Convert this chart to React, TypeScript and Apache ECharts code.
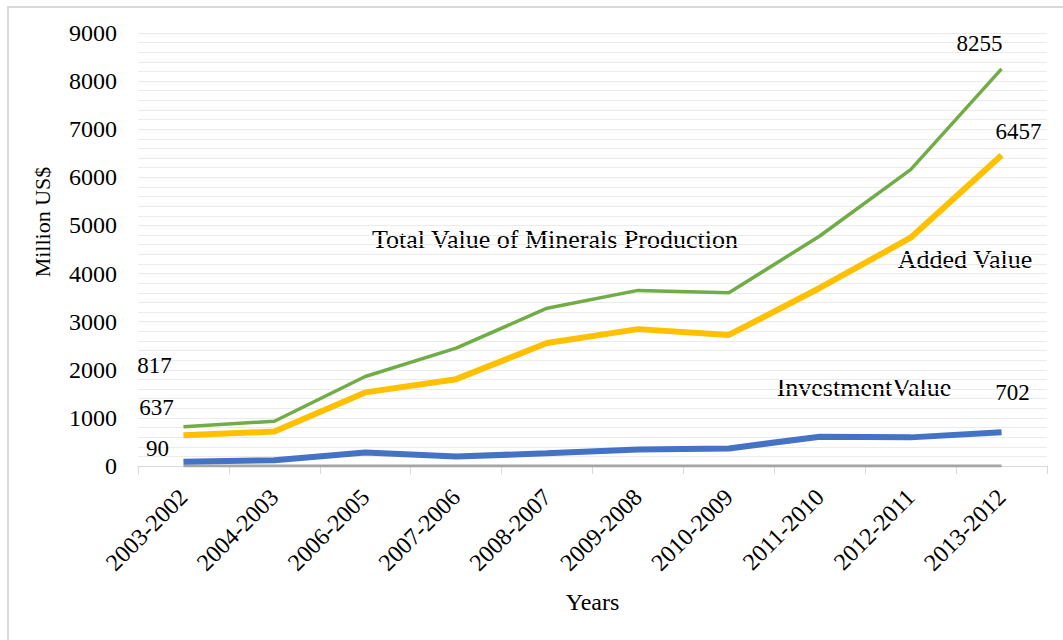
import React, { useEffect, useRef } from "react";
import * as echarts from "echarts";

const years = [
  "2003-2002", "2004-2003", "2006-2005", "2007-2006", "2008-2007",
  "2009-2008", "2010-2009", "2011-2010", "2012-2011", "2013-2012",
];
const totalValue = [817, 930, 1860, 2450, 3280, 3650, 3600, 4780, 6160, 8255];
const addedValue = [637, 715, 1530, 1805, 2555, 2845, 2725, 3700, 4745, 6457];
const investmentValue = [90, 120, 280, 195, 265, 345, 365, 610, 595, 702];
const zeroSeries = [0, 0, 0, 0, 0, 0, 0, 0, 0, 0];

const FONT = '"Liberation Serif", "Times New Roman", serif';

function withEndLabels(values: number[]) {
  return values.map((v, i) => {
    if (i === 0 || i === values.length - 1) {
      return {
        value: v,
        label: {
          show: true,
          position: "inside",
          formatter: String(v),
          color: "#000",
          fontFamily: FONT,
          fontSize: 23,
        },
      };
    }
    return { value: v };
  });
}

function endLayout(first: number[], last: number[], n: number) {
  return (params: any) => {
    if (params.dataIndex === 0) return { dx: first[0], dy: first[1], hideOverlap: false };
    if (params.dataIndex === n - 1) return { dx: last[0], dy: last[1], hideOverlap: false };
    return {};
  };
}

export default function App() {
  const ref = useRef<HTMLDivElement>(null);
  useEffect(() => {
    if (!ref.current) return;
    const chart = echarts.init(ref.current, null, { renderer: "svg" });
    chart.setOption({
      animation: false,
      backgroundColor: "#fff",
      grid: { left: 138, right: 16, top: 33, bottom: 174 },
      xAxis: {
        type: "category",
        data: years,
        boundaryGap: true,
        name: "Years",
        nameLocation: "middle",
        nameGap: 124,
        nameTextStyle: { fontFamily: FONT, fontSize: 24, color: "#000" },
        axisLine: { show: true, lineStyle: { color: "#d9d9d9", width: 1 } },
        axisTick: { show: true, length: 8, lineStyle: { color: "#d9d9d9" } },
        axisLabel: {
          rotate: 45,
          margin: 27,
          interval: 0,
          fontFamily: FONT,
          fontSize: 24,
          color: "#000",
        },
        splitLine: { show: false },
      },
      yAxis: {
        type: "value",
        min: 0,
        max: 9000,
        interval: 1000,
        axisLine: { show: false },
        axisTick: { show: false },
        axisLabel: {
          margin: 21,
          fontFamily: FONT,
          fontSize: 24,
          color: "#000",
          formatter: (v: number) => String(v),
        },
        splitLine: { show: true, lineStyle: { color: "#ebebeb", width: 1 } },
        minorTick: { show: false, splitNumber: 5 },
        minorSplitLine: { show: true, lineStyle: { color: "#ebebeb", width: 1 } },
      },
      series: [
        {
          name: "Zero",
          type: "line",
          data: zeroSeries,
          symbol: "none",
          lineStyle: { color: "#a5a5a5", width: 3 },
          silent: true,
        },
        {
          name: "Investment Value",
          type: "line",
          data: withEndLabels(investmentValue),
          symbol: "circle",
          symbolSize: 0,
          showSymbol: true,
          itemStyle: { color: "#4472c4" },
          lineStyle: { color: "#4472c4", width: 6 },
          labelLayout: endLayout([-26, -13], [11, -40], investmentValue.length),
        },
        {
          name: "Added Value",
          type: "line",
          data: withEndLabels(addedValue),
          symbol: "circle",
          symbolSize: 0,
          showSymbol: true,
          itemStyle: { color: "#ffc000" },
          lineStyle: { color: "#ffc000", width: 6 },
          labelLayout: endLayout([-27, -28], [17, -24], addedValue.length),
        },
        {
          name: "Total Value of Minerals Production",
          type: "line",
          data: withEndLabels(totalValue),
          symbol: "circle",
          symbolSize: 0,
          showSymbol: true,
          itemStyle: { color: "#70ad47" },
          lineStyle: { color: "#70ad47", width: 3.5 },
          labelLayout: endLayout([-29, -61], [-22, -25], totalValue.length),
        },
      ],
      graphic: [
        {
          type: "rect",
          shape: { x: 8, y: 7, width: 1100, height: 700 },
          style: { fill: "none", stroke: "#d9d9d9", lineWidth: 2 },
          silent: true,
          z: -1,
        },
        {
          type: "text",
          x: 42,
          y: 222,
          rotation: Math.PI / 2,
          style: {
            text: "Million US$",
            fontFamily: FONT,
            fontSize: 22,
            fill: "#000",
            textAlign: "center",
            textVerticalAlign: "middle",
          },
        },
        {
          type: "text",
          x: 555,
          y: 239,
          style: {
            text: "Total Value of Minerals Production",
            fontFamily: FONT,
            fontSize: 26,
            fill: "#000",
            textAlign: "center",
            textVerticalAlign: "middle",
          },
        },
        {
          type: "text",
          x: 965,
          y: 259,
          style: {
            text: "Added Value",
            fontFamily: FONT,
            fontSize: 26,
            fill: "#000",
            textAlign: "center",
            textVerticalAlign: "middle",
          },
        },
        {
          type: "text",
          x: 864,
          y: 387,
          style: {
            text: "InvestmentValue",
            fontFamily: FONT,
            fontSize: 26,
            fill: "#000",
            textAlign: "center",
            textVerticalAlign: "middle",
          },
        },
      ],
    });
    return () => chart.dispose();
  }, []);
  return (
    <div
      ref={ref}
      style={{ position: "absolute", left: 0, top: 0, width: 1063, height: 640 }}
    />
  );
}
